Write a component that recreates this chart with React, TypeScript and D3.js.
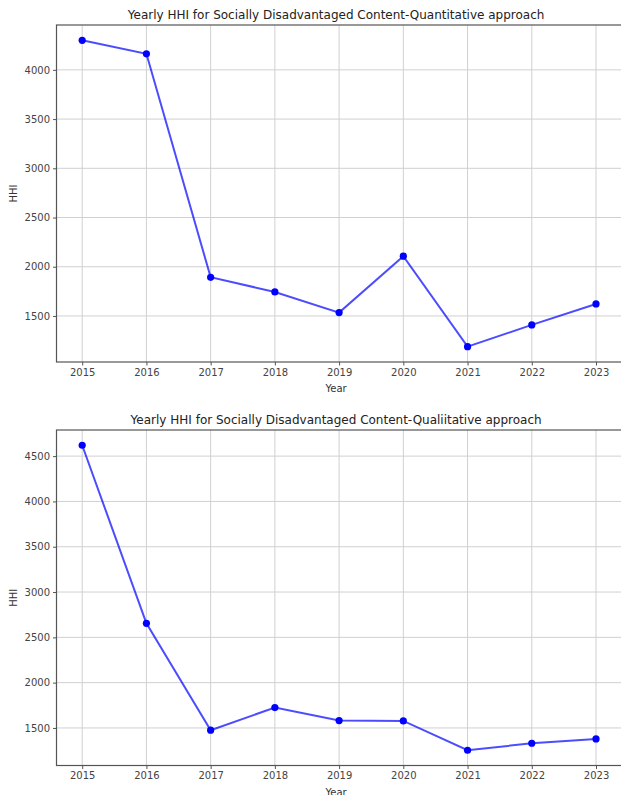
import { useEffect, useRef } from 'react';
import * as d3 from 'd3';

const years = [2015, 2016, 2017, 2018, 2019, 2020, 2021, 2022, 2023];
const quantHHI = [4300, 4163, 1893, 1744, 1534, 2107, 1188, 1409, 1622];
const qualHHI = [4620, 2655, 1475, 1725, 1582, 1578, 1254, 1331, 1379];
const quantTicks = [1500, 2000, 2500, 3000, 3500, 4000];
const qualTicks = [1500, 2000, 2500, 3000, 3500, 4000, 4500];
const titles = [
  'Yearly HHI for Socially Disadvantaged Content-Quantitative approach',
  'Yearly HHI for Socially Disadvantaged Content-Qualiitative approach',
];

interface PanelProps {
  values: number[];
  ticks: number[];
  title: string;
  top: number;
  bottom: number;
}

const FONT = 'DejaVu Sans, sans-serif';

const Panel = (props: PanelProps) => {
  const gRef = useRef<SVGGElement | null>(null);

  useEffect(() => {
    if (!gRef.current) return;
    const g = d3.select(gRef.current);
    g.selectAll('*').remove();

    const left = 56.5;
    const right = 621.7;
    const { top, bottom, values } = props;

    // matplotlib style 5% margins
    const x = d3.scaleLinear().domain([2014.6, 2023.4]).range([left, right]);
    const lo = d3.min(values) || 0;
    const hi = d3.max(values) || 1;
    const pad = (hi - lo) * 0.05;
    const y = d3.scaleLinear().domain([lo - pad, hi + pad]).range([bottom, top]);

    // grid
    g.selectAll('line.vgrid')
      .data(years)
      .enter()
      .append('line')
      .attr('x1', d => x(d)).attr('x2', d => x(d))
      .attr('y1', top).attr('y2', bottom)
      .attr('stroke', '#d0d0d0').attr('stroke-width', 1);
    g.selectAll('line.hgrid')
      .data(props.ticks)
      .enter()
      .append('line')
      .attr('x1', left).attr('x2', right)
      .attr('y1', d => y(d)).attr('y2', d => y(d))
      .attr('stroke', '#d0d0d0').attr('stroke-width', 1);

    // axes
    const xAxis = g.append('g')
      .attr('transform', `translate(0,${bottom})`)
      .call(d3.axisBottom(x).tickValues(years).tickFormat(d3.format('d')).tickSize(3.5).tickSizeOuter(0));
    const yAxis = g.append('g')
      .attr('transform', `translate(${left},0)`)
      .call(d3.axisLeft(y).tickValues(props.ticks).tickFormat(d3.format('d')).tickSize(3.5).tickSizeOuter(0));
    [xAxis, yAxis].forEach(a => {
      a.select('.domain').remove();
      a.selectAll('line').attr('stroke', '#555');
      a.selectAll('text').attr('font-family', FONT).attr('font-size', 10).attr('fill', '#444');
    });

    // frame
    g.append('rect')
      .attr('x', left).attr('y', top)
      .attr('width', right - left).attr('height', bottom - top)
      .attr('fill', 'none').attr('stroke', '#555').attr('stroke-width', 1.2);

    // line
    const line = d3.line<number>()
      .x((_, i) => x(years[i]))
      .y(d => y(d));
    g.append('path')
      .datum(values)
      .attr('d', line)
      .attr('fill', 'none')
      .attr('stroke', 'blue')
      .attr('stroke-opacity', 0.7)
      .attr('stroke-width', 2);

    g.selectAll('circle.pt')
      .data(values)
      .enter()
      .append('circle')
      .attr('cx', (_, i) => x(years[i]))
      .attr('cy', d => y(d))
      .attr('r', 3.6)
      .attr('fill', 'blue');

    // labels
    g.append('text')
      .attr('x', (left + right) / 2 - 3)
      .attr('y', top - 6)
      .attr('text-anchor', 'middle')
      .attr('font-family', FONT).attr('font-size', 12).attr('fill', '#222')
      .text(props.title);
    g.append('text')
      .attr('x', (left + right) / 2 - 3)
      .attr('y', bottom + 30)
      .attr('text-anchor', 'middle')
      .attr('font-family', FONT).attr('font-size', 10).attr('fill', '#333')
      .text('Year');
    g.append('text')
      .attr('transform', `translate(17,${(top + bottom) / 2}) rotate(-90)`)
      .attr('text-anchor', 'middle')
      .attr('font-family', FONT).attr('font-size', 10).attr('fill', '#333')
      .text('HHI');
  }, [props]);

  return <g ref={gRef}></g>;
};

const App = () => {
  return (
    <svg width={621} height={795} style={{ position: 'absolute', left: 0, top: 0, background: '#fff' }}>
      <rect width={621} height={795} fill="#fff" />
      <Panel values={quantHHI} ticks={quantTicks} title={titles[0]} top={25} bottom={362} />
      <Panel values={qualHHI} ticks={qualTicks} title={titles[1]} top={430} bottom={765.5} />
    </svg>
  );
};

export default App;
